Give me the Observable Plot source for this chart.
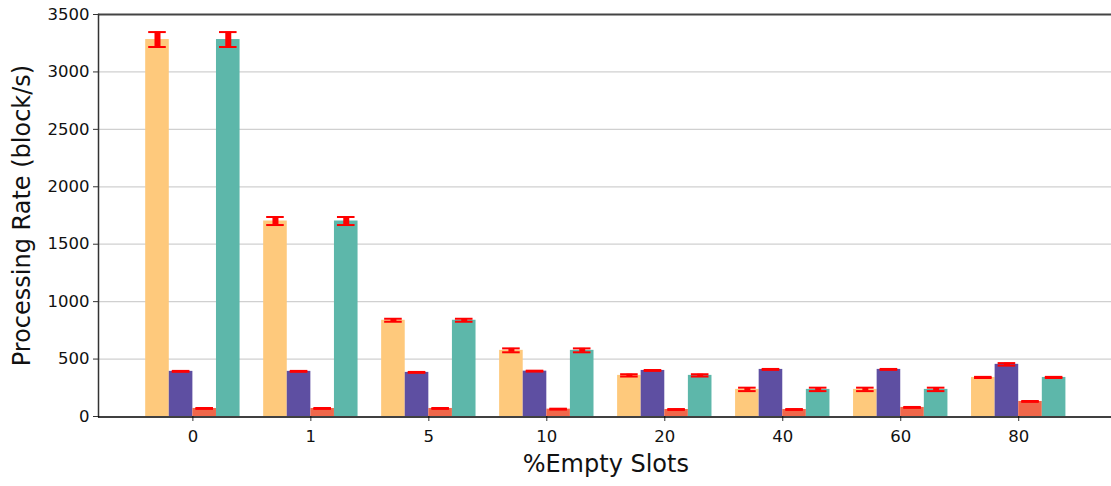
<!DOCTYPE html>
<html>
<head>
<meta charset="utf-8">
<script src="https://cdn.jsdelivr.net/npm/d3@7"></script>
<script src="https://cdn.jsdelivr.net/npm/@observablehq/plot@0.6"></script>
<style>
  html, body { margin: 0; padding: 0; background: #fff; }
  #chart { position: relative; width: 1111px; height: 486px; overflow: hidden; }
  #chart svg { display: block; position: absolute; left: 0; top: 0; }
  #chart g[aria-label="y-axis label"] text,
  #chart g[aria-label="x-axis label"] text { font-size: 24px; }
</style>
</head>
<body>
<div id="chart"></div>
<script>
// Categories (x groups)
const categories = ["0", "1", "5", "10", "20", "40", "60", "80"];
// Series names (no legend in the reference)
const seriesNames = ["Series A", "Series B", "Series C", "Series D"];
const seriesColors = ["#fec97c", "#5e4fa2", "#f0674a", "#5db7aa"];

// Values per series (block/s)
const seriesA = [3282, 1702, 838, 576, 358, 236, 236, 340];
const seriesB = [393, 393, 384, 395, 401, 410, 410, 454];
const seriesC = [70, 70, 70, 64, 61, 61, 79, 131];
const seriesD = [3282, 1702, 838, 576, 358, 236, 236, 340];

// Error (half-range) per series
const errA = [65, 35, 13, 17, 10, 15, 15, 5];
const errB = [4, 4, 4, 4, 4, 4, 4, 11];
const errC = [4, 4, 4, 4, 4, 4, 4, 4];
const errD = [65, 35, 13, 17, 10, 15, 15, 5];

const yTicks = [0, 500, 1000, 1500, 2000, 2500, 3000, 3500];
const gridTicks = [500, 1000, 1500, 2000, 2500, 3000];

const values = [seriesA, seriesB, seriesC, seriesD];
const errs = [errA, errB, errC, errD];
const rows = [];
categories.forEach((c, i) => seriesNames.forEach((s, j) => rows.push({cat: c, series: s, value: values[j][i], err: errs[j][i]})));

const common = {
  width: 1111,
  height: 486,
  marginLeft: 98,
  marginRight: -1.6,
  marginTop: 14,
  marginBottom: 70
};
const bandOpts = {type: "band", domain: categories, paddingInner: 0.2, paddingOuter: 0.4, round: false};
const yOpts = {domain: [0, 3500]};

// Background layer: grid, spines, axes
const axesChart = Plot.plot({
  ...common,
  style: {fontFamily: "DejaVu Sans", fontSize: "16.5px", background: "#fff", color: "#111", overflow: "visible"},
  x: {...bandOpts, axis: null},
  y: {...yOpts, axis: null},
  marks: [
    Plot.gridY(gridTicks, {stroke: "#d0d0d0", strokeOpacity: 1, strokeWidth: 1.3}),
    Plot.ruleY([3500], {stroke: "#444", strokeWidth: 2}),
    Plot.frame({anchor: "left", stroke: "#333", strokeWidth: 1.5}),
    Plot.axisY({ticks: yTicks, tickFormat: d => String(d), tickSize: 5, tickPadding: 4, stroke: "#333", label: "Processing Rate (block/s)", labelAnchor: "center", labelOffset: 86, labelArrow: "none"}),
    Plot.axisX({tickSize: 5, tickPadding: 9, stroke: "#333", label: "%Empty Slots", labelAnchor: "center", labelOffset: 55, labelArrow: "none"})
  ]
});

// Foreground layer: grouped bars with error bars
const barsChart = Plot.plot({
  ...common,
  style: {background: "transparent", overflow: "visible"},
  fx: {...bandOpts, axis: null},
  x: {domain: seriesNames, padding: 0, round: false, axis: null},
  y: {...yOpts, axis: null},
  color: {domain: seriesNames, range: seriesColors},
  marks: [
    Plot.barY(rows, {fx: "cat", x: "series", y: "value", fill: "series"}),
    Plot.ruleX(rows, {fx: "cat", x: "series", y1: d => d.value - d.err, y2: d => d.value + d.err, stroke: "red", strokeWidth: 6}),
    Plot.tickY(rows, {fx: "cat", x: "series", y: d => d.value - d.err, stroke: "red", strokeWidth: 2, insetLeft: 3, insetRight: 3}),
    Plot.tickY(rows, {fx: "cat", x: "series", y: d => d.value + d.err, stroke: "red", strokeWidth: 2, insetLeft: 3, insetRight: 3})
  ]
});

// Top layer: baseline
const baseChart = Plot.plot({
  ...common,
  style: {background: "transparent", overflow: "visible"},
  x: {...bandOpts, axis: null},
  y: {...yOpts, axis: null},
  marks: [
    Plot.ruleY([0], {stroke: "#000", strokeWidth: 1.5, dy: 0.5})
  ]
});

const host = document.getElementById("chart");
host.appendChild(axesChart);
host.appendChild(barsChart);
host.appendChild(baseChart);
</script>
</body>
</html>
